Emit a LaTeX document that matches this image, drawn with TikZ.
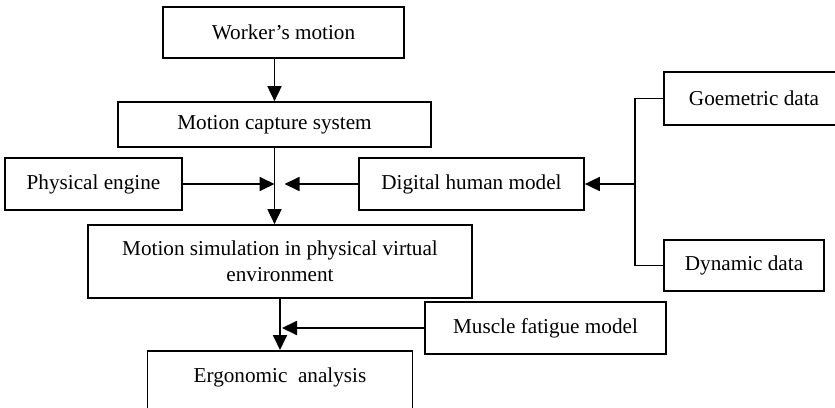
\documentclass[tikz,border=0pt]{standalone}
\usepackage{fontspec}
\setmainfont{Liberation Serif}
\usepackage{tikz}
\usetikzlibrary{arrows.meta}

\begin{document}
\begin{tikzpicture}
		[x=0.5pt, y=-0.5pt,
		 box/.style={draw=black, line width=0.85pt, inner sep=0pt, align=center, font=\fontsize{10.6}{12.8}\selectfont},
		 link/.style={line width=0.9pt, -{Triangle[length=7.5pt, width=7pt]}}]
		\useasboundingbox (0,0) rectangle (835,407);
		\clip (0,0) rectangle (835,407);

		\node[box, minimum width=120.5pt, minimum height=25.5pt] (work) at (283.5,32.5) {Worker's motion};
		\node[box, minimum width=156.5pt, minimum height=22.5pt] (mocap) at (274.5,124.5) {Motion capture system};
		\node[box, minimum width=88.5pt, minimum height=26pt] (phys) at (93.5,184) {Physical engine};
		\node[box, minimum width=112.5pt, minimum height=26pt] (dhm) at (471.5,184) {Digital human model};
		\node[box, minimum width=90pt, minimum height=26.5pt] (geo) at (754,98.5) {Goemetric data};
		\node[box, minimum width=80pt, minimum height=25.5pt] (dyn) at (744,265.5) {Dynamic data};
		\node[box, minimum width=192pt, minimum height=36.5pt] (sim) at (280,261.5) {Motion simulation in physical virtual\\environment};
		\node[box, minimum width=120.5pt, minimum height=26pt] (musc) at (545.5,328) {Muscle fatigue model};
		\node[box, minimum width=132.5pt, anchor=north, text height=8pt, text depth=40pt, inner ysep=8pt] (ergo) at (280,350) {Ergonomic\ \ analysis};

		\coordinate (j1) at (mocap.south |- phys.east);
		\coordinate (j2) at (sim.south |- musc.west);
		\coordinate (bus) at ([xshift=-14pt]geo.west |- dhm.east);

		\draw[link] (work.south -| mocap.north) to (mocap.north);
		\draw[link] (mocap.south) to (mocap.south |- sim.north);
		\draw[link] (phys.east) to (j1);
		\draw[link] (dhm.west) to ([xshift=5pt]j1);
		\draw[line width=0.9pt] (geo.west) -- ++(-14pt,0) |- (dyn.west);
		\draw[link] (bus) to (dhm.east);
		\draw[link] (sim.south) to (ergo.north);
		\draw[link] (musc.west) to ([xshift=1pt]j2);
	\end{tikzpicture}
\end{document}
